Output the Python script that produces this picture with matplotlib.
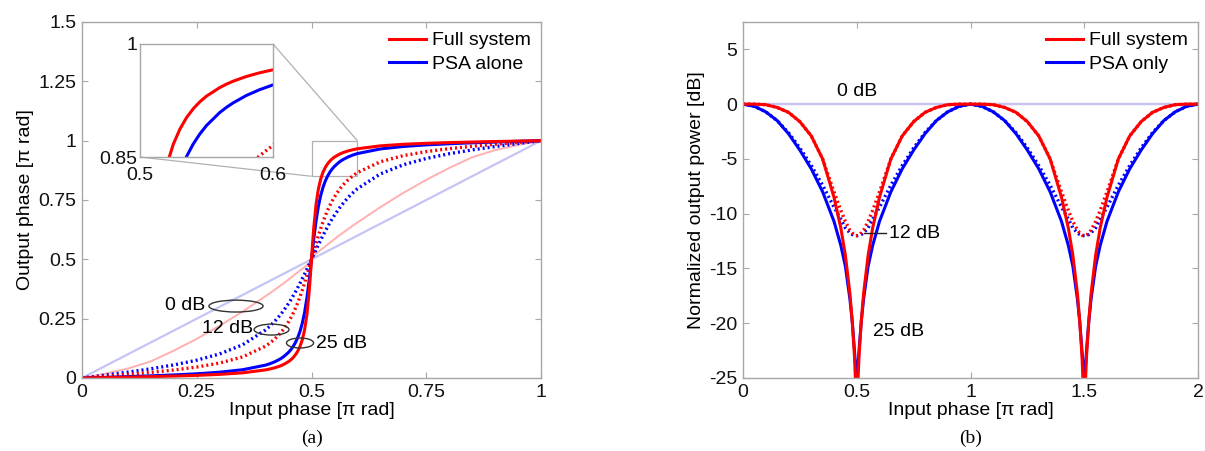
import matplotlib
matplotlib.use("Agg")
import matplotlib.pyplot as plt
from matplotlib.patches import Ellipse
from mpl_toolkits.axes_grid1.inset_locator import mark_inset

plt.rcParams['font.family'] = ['Liberation Sans', 'DejaVu Sans']

# ---------------- Panel (a): output phase vs input phase ----------------
phase_a = [0, 0.05, 0.1, 0.15, 0.2, 0.25, 0.3, 0.35, 0.4, 0.41, 0.42, 0.43, 0.435, 0.44,
           0.45, 0.455, 0.46, 0.465, 0.47, 0.475, 0.48, 0.485, 0.49, 0.495, 0.4975, 0.5,
           0.5025, 0.505, 0.51, 0.515, 0.52, 0.525, 0.53, 0.535, 0.54, 0.545, 0.55, 0.56,
           0.565, 0.57, 0.58, 0.59, 0.6, 0.65, 0.7, 0.75, 0.8, 0.85, 0.9, 0.95, 1.0]
full_25_a = [0, 0.0018, 0.0036, 0.0057, 0.0081, 0.0111, 0.0153, 0.0218, 0.0342, 0.0382,
             0.0431, 0.0494, 0.0533, 0.0578, 0.0692, 0.0767, 0.0860, 0.0977, 0.1130,
             0.1332, 0.1616, 0.2032, 0.2671, 0.3657, 0.4297, 0.5,
             0.5703, 0.6343, 0.7329, 0.7968, 0.8384, 0.8668, 0.8870, 0.9023, 0.9140,
             0.9233, 0.9308, 0.9422, 0.9467, 0.9506, 0.9569, 0.9618, 0.9658, 0.9782,
             0.9847, 0.9889, 0.9919, 0.9943, 0.9964, 0.9982, 1.0]
psa_25_a = [0, 0.0028, 0.0058, 0.0091, 0.0130, 0.0178, 0.0245, 0.0349, 0.0543, 0.0606,
            0.0683, 0.0782, 0.0841, 0.0909, 0.1082, 0.1194, 0.1328, 0.1494, 0.1702,
            0.1968, 0.2314, 0.2771, 0.3372, 0.4129, 0.4556, 0.5,
            0.5444, 0.5871, 0.6628, 0.7229, 0.7686, 0.8032, 0.8298, 0.8506, 0.8672,
            0.8806, 0.8918, 0.9091, 0.9159, 0.9218, 0.9317, 0.9394, 0.9457, 0.9651,
            0.9755, 0.9822, 0.9870, 0.9909, 0.9942, 0.9972, 1.0]
full_12_a = [0, 0.0074, 0.0151, 0.0237, 0.0337, 0.0461, 0.0631, 0.0889, 0.1344, 0.1482,
             0.1646, 0.1842, 0.1954, 0.2079, 0.2370, 0.2540, 0.2730, 0.2939, 0.3172,
             0.3426, 0.3705, 0.4007, 0.4326, 0.4659, 0.4829, 0.5,
             0.5171, 0.5341, 0.5674, 0.5993, 0.6295, 0.6574, 0.6828, 0.7061, 0.7270,
             0.7460, 0.7630, 0.7921, 0.8046, 0.8158, 0.8354, 0.8518, 0.8656, 0.9111,
             0.9369, 0.9539, 0.9663, 0.9763, 0.9849, 0.9926, 1.0]
psa_12_a = [0, 0.0121, 0.0248, 0.0388, 0.0550, 0.0750, 0.1016, 0.1400, 0.2025, 0.2198,
            0.2390, 0.2614, 0.2734, 0.2860, 0.3143, 0.3296, 0.3460, 0.3628, 0.3810,
            0.3994, 0.4190, 0.4382, 0.4590, 0.4792, 0.4896, 0.5,
            0.5104, 0.5208, 0.5410, 0.5618, 0.5810, 0.6006, 0.6190, 0.6372, 0.6540,
            0.6704, 0.6857, 0.7140, 0.7266, 0.7386, 0.7610, 0.7802, 0.7975, 0.8600,
            0.8984, 0.9250, 0.9450, 0.9612, 0.9752, 0.9879, 1.0]
full_0_a = [0, 0.018, 0.04, 0.07, 0.115, 0.165, 0.22, 0.28, 0.345, 0.358, 0.372, 0.386,
            0.393, 0.40, 0.415, 0.423, 0.43, 0.438, 0.445, 0.453, 0.46, 0.468, 0.476,
            0.485, 0.49, 0.5,
            0.51, 0.515, 0.524, 0.532, 0.54, 0.547, 0.555, 0.562, 0.57, 0.577, 0.585,
            0.60, 0.607, 0.614, 0.628, 0.642, 0.655, 0.72, 0.78, 0.835, 0.885, 0.93,
            0.96, 0.982, 1.0]
phase_lin = [0, 1]
psa_0_a = [0, 1]

# ---------------- Panel (b): normalized output power ----------------
phase_b = [0, 0.05, 0.1, 0.15, 0.2, 0.25, 0.3, 0.35, 0.4, 0.43, 0.45, 0.47, 0.48, 0.49,
           0.495, 0.5, 0.505, 0.51, 0.52, 0.53, 0.55, 0.57, 0.6, 0.65, 0.7, 0.75, 0.8,
           0.85, 0.9, 0.95, 1.0,
           1.05, 1.1, 1.15, 1.2, 1.25, 1.3, 1.35, 1.4, 1.43, 1.45, 1.47, 1.48, 1.49,
           1.495, 1.5, 1.505, 1.51, 1.52, 1.53, 1.55, 1.57, 1.6, 1.65, 1.7, 1.75, 1.8,
           1.85, 1.9, 1.95, 2.0]
psa_25_b = [0, -0.2, -0.7, -1.5, -2.7, -4.2, -5.9, -8.0, -10.7, -12.9, -14.8, -17.8, -19.8,
            -22.5, -24.0, -25.0, -24.0, -22.5, -19.8, -17.8, -14.8, -12.9, -10.7, -8.0,
            -5.9, -4.2, -2.7, -1.5, -0.7, -0.2, 0,
            -0.2, -0.7, -1.5, -2.7, -4.2, -5.9, -8.0, -10.7, -12.9, -14.8, -17.8, -19.8,
            -22.5, -24.0, -25.0, -24.0, -22.5, -19.8, -17.8, -14.8, -12.9, -10.7, -8.0,
            -5.9, -4.2, -2.7, -1.5, -0.7, -0.2, 0]
full_25_b = [0, 0, -0.05, -0.3, -0.75, -1.6, -2.9, -5.0, -8.5, -11.3, -13.8, -17.3, -19.8,
             -23.0, -25.5, -28.0, -25.5, -23.0, -19.8, -17.3, -13.8, -11.3, -8.5, -5.0,
             -2.9, -1.6, -0.75, -0.3, -0.05, 0, 0,
             0, -0.05, -0.3, -0.75, -1.6, -2.9, -5.0, -8.5, -11.3, -13.8, -17.3, -19.8,
             -23.0, -25.5, -28.0, -25.5, -23.0, -19.8, -17.3, -13.8, -11.3, -8.5, -5.0,
             -2.9, -1.6, -0.75, -0.3, -0.05, 0, 0]
full_12_b = [0, 0, -0.05, -0.3, -0.75, -1.6, -2.9, -5.0, -8.0, -9.7, -10.7, -11.5, -11.75,
             -11.95, -12.0, -12.0, -12.0, -11.95, -11.75, -11.5, -10.7, -9.7, -8.0, -5.0,
             -2.9, -1.6, -0.75, -0.3, -0.05, 0, 0,
             0, -0.05, -0.3, -0.75, -1.6, -2.9, -5.0, -8.0, -9.7, -10.7, -11.5, -11.75,
             -11.95, -12.0, -12.0, -12.0, -11.95, -11.75, -11.5, -10.7, -9.7, -8.0, -5.0,
             -2.9, -1.6, -0.75, -0.3, -0.05, 0, 0]
psa_12_b = [0, -0.2, -0.7, -1.5, -2.6, -4.0, -5.6, -7.4, -9.4, -10.5, -11.3, -11.75, -11.9,
            -11.98, -12.0, -12.0, -12.0, -11.98, -11.9, -11.75, -11.3, -10.5, -9.4, -7.4,
            -5.6, -4.0, -2.6, -1.5, -0.7, -0.2, 0,
            -0.2, -0.7, -1.5, -2.6, -4.0, -5.6, -7.4, -9.4, -10.5, -11.3, -11.75, -11.9,
            -11.98, -12.0, -12.0, -12.0, -11.98, -11.9, -11.75, -11.3, -10.5, -9.4, -7.4,
            -5.6, -4.0, -2.6, -1.5, -0.7, -0.2, 0]
phase_flat = [0, 2]
zero_b = [0, 0]

xticks_a = [0, 0.25, 0.5, 0.75, 1]
yticks_a = [0, 0.25, 0.5, 0.75, 1, 1.25, 1.5]
xticks_b = [0, 0.5, 1, 1.5, 2]
yticks_b = [-25, -20, -15, -10, -5, 0, 5]

RED = '#ff0000'
BLUE = '#0000ff'
FRED = '#ffb0b0'
FBLUE = '#c4c4f6'
GRID = '#a8a8a8'
FS = 14
DOT = (0, (0.6, 0.9))


def fmt(v):
    return ('%g' % v)


def style(ax):
    for s in ax.spines.values():
        s.set_color(GRID)
        s.set_linewidth(1.0)
    ax.tick_params(direction='in', length=4, color=GRID, labelsize=FS,
                   top=True, right=True, labelcolor='#111111', pad=4)


fig = plt.figure(figsize=(12.05, 4.51), dpi=100)

# ---- Panel (a)
ax = fig.add_axes([82 / 1205, 1 - 378 / 451, 459 / 1205, 356 / 451])
ax.plot(phase_lin, psa_0_a, color=FBLUE, lw=1.6, solid_capstyle='butt')
ax.plot(phase_a, full_0_a, color=FRED, lw=1.4)
ax.plot(phase_a, psa_12_a, color=BLUE, lw=2.4, ls=DOT)
ax.plot(phase_a, full_12_a, color=RED, lw=2.4, ls=DOT)
ax.plot(phase_a, psa_25_a, color=BLUE, lw=2.2, label='PSA alone')
ax.plot(phase_a, full_25_a, color=RED, lw=2.2, label='Full system')
ax.set_xlim(0, 1)
ax.set_ylim(0, 1.5)
ax.set_xticks(xticks_a)
ax.set_xticklabels([fmt(v) for v in xticks_a])
ax.set_yticks(yticks_a)
ax.set_yticklabels([fmt(v) for v in yticks_a])
style(ax)
ax.set_xlabel('Input phase [\u03c0 rad]', fontsize=FS, labelpad=1)
ax.set_ylabel('Output phase [\u03c0 rad]', fontsize=FS, labelpad=3)
h, l = ax.get_legend_handles_labels()
ax.legend(h[::-1], l[::-1], loc='upper right', frameon=False, fontsize=FS,
          handlelength=1.9, handletextpad=0.35, borderaxespad=0.2, labelspacing=0.3,
          borderpad=0.3)

for (cx, cy, w, hh) in [(0.3355, 0.303, 0.118, 0.05), (0.413, 0.204, 0.076, 0.046),
                        (0.475, 0.1475, 0.059, 0.042)]:
    ax.add_patch(Ellipse((cx, cy), w, hh, fill=False, ec='#333333', lw=1.0, zorder=5))
ax.text(0.268, 0.306, '0 dB', fontsize=FS, ha='right', va='center')
ax.text(0.372, 0.207, '12 dB', fontsize=FS, ha='right', va='center')
ax.text(0.51, 0.145, '25 dB', fontsize=FS, ha='left', va='center')

# inset
axins = fig.add_axes([140 / 1205, 1 - 157 / 451, 133 / 1205, 113 / 451])
axins.plot(phase_a, full_12_a, color=RED, lw=2.4, ls=DOT)
axins.plot(phase_a, psa_25_a, color=BLUE, lw=2.2)
axins.plot(phase_a, full_25_a, color=RED, lw=2.2)
axins.set_xlim(0.5, 0.6)
axins.set_ylim(0.85, 1.0)
axins.set_xticks([0.5, 0.6])
axins.set_xticklabels(['0.5', '0.6'])
axins.set_yticks([0.85, 1.0])
axins.set_yticklabels(['0.85', '1'])
for s in axins.spines.values():
    s.set_color(GRID)
    s.set_linewidth(1.0)
axins.tick_params(axis='x', length=0, labelsize=FS, pad=7, labelcolor='#111111')
axins.tick_params(axis='y', length=0, labelsize=FS, pad=2, labelcolor='#111111')
mark_inset(ax, axins, loc1=1, loc2=3, fc='none', ec='#b0b0b0', lw=0.9)

fig.text((82 + 541) / 2 / 1205, 1 - 438 / 451, '(a)', ha='center', va='center',
         fontsize=14, family='Liberation Serif')

# ---- Panel (b)
bx = fig.add_axes([743 / 1205, 1 - 378 / 451, 455 / 1205, 356 / 451])
bx.plot(phase_flat, zero_b, color=FRED, lw=1.6)
bx.plot(phase_flat, zero_b, color=FBLUE, lw=1.6)
bx.plot(phase_b, psa_12_b, color=BLUE, lw=2.4, ls=DOT)
bx.plot(phase_b, full_12_b, color=RED, lw=2.4, ls=DOT)
bx.plot(phase_b, psa_25_b, color=BLUE, lw=2.2, label='PSA only')
bx.plot(phase_b, full_25_b, color=RED, lw=2.2, label='Full system')
bx.set_xlim(0, 2)
bx.set_ylim(-25, 7.5)
bx.set_xticks(xticks_b)
bx.set_xticklabels([fmt(v) for v in xticks_b])
bx.set_yticks(yticks_b)
bx.set_yticklabels([fmt(v) for v in yticks_b])
style(bx)
bx.set_xlabel('Input phase [\u03c0 rad]', fontsize=FS, labelpad=1)
bx.set_ylabel('Normalized output power [dB]', fontsize=FS, labelpad=3)
h, l = bx.get_legend_handles_labels()
bx.legend(h[::-1], l[::-1], loc='upper right', frameon=False, fontsize=FS,
          handlelength=1.9, handletextpad=0.35, borderaxespad=0.2, labelspacing=0.3,
          borderpad=0.3)
bx.text(0.5, 0.4, '0 dB', fontsize=FS, ha='center', va='bottom')
bx.plot([0.53, 0.63], [-11.8, -11.8], color='#222222', lw=1.0)
bx.text(0.64, -11.8, '12 dB', fontsize=FS, ha='left', va='center')
bx.text(0.57, -20.8, '25 dB', fontsize=FS, ha='left', va='center')

fig.text((743 + 1198) / 2 / 1205, 1 - 438 / 451, '(b)', ha='center', va='center',
         fontsize=14, family='Liberation Serif')

fig.savefig('out.png', dpi=100)
